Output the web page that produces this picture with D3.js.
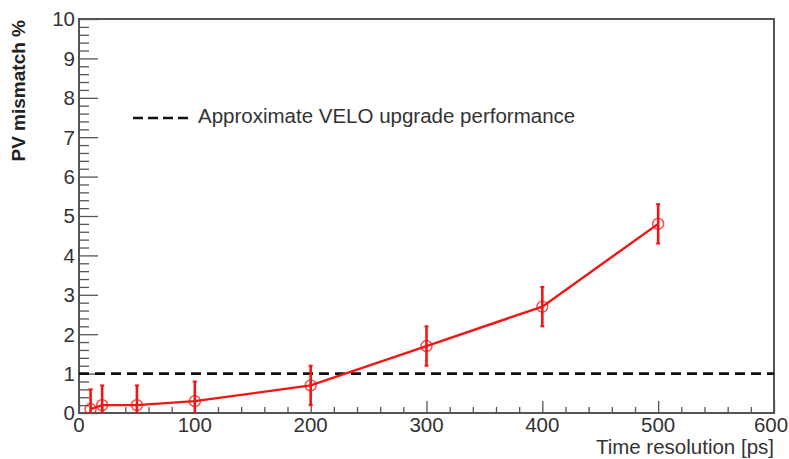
<!DOCTYPE html>
<html>
<head>
<meta charset="utf-8">
<script src="https://cdn.jsdelivr.net/npm/d3@7"></script>
<style>
  html, body { margin: 0; padding: 0; background: #fff; }
  svg { display: block; font-family: "Liberation Sans", Arial, Helvetica, sans-serif; }
</style>
</head>
<body>
<svg id="chart" width="789" height="459"></svg>
<script>
// Time resolution (ps) and PV mismatch (%) with symmetric errors
const timeRes   = [10, 20, 50, 100, 200, 300, 400, 500];
const mismatch  = [0.1, 0.2, 0.2, 0.3, 0.7, 1.7, 2.7, 4.8];
const errors    = [0.5, 0.5, 0.5, 0.5, 0.5, 0.5, 0.5, 0.5];
const veloLevel = 1;
const xTicks = [0, 100, 200, 300, 400, 500, 600];
const yTicks = [0, 1, 2, 3, 4, 5, 6, 7, 8, 9, 10];
const legendLabel = "Approximate VELO upgrade performance";

const svg = d3.select("#chart");
const m = { left: 79, right: 789 - 774, top: 19, bottom: 459 - 413 };
const W = 789, H = 459;

const x = d3.scaleLinear().domain([0, 600]).range([m.left, W - m.right]);
const y = d3.scaleLinear().domain([0, 10]).range([H - m.bottom, m.top]);

const axisColor = "#555";
const textColor = "#333";
const red = "#f41414";

// clip for data marks
svg.append("clipPath").attr("id", "plotClip")
  .append("rect")
  .attr("x", x(0)).attr("y", y(10))
  .attr("width", x(600) - x(0)).attr("height", y(0) - y(10));

// x axis: major ticks every 100, minor every 20, drawn inward
const xMinor = d3.range(0, 601, 20).filter(v => v % 100 !== 0);
const xAxisMajor = d3.axisTop(x).tickValues(xTicks).tickSize(12).tickFormat("");
const xAxisMinor = d3.axisTop(x).tickValues(xMinor).tickSize(6).tickFormat("");
[xAxisMajor, xAxisMinor].forEach(a => {
  const g = svg.append("g").attr("transform", `translate(0,${y(0)})`).call(a);
  g.select(".domain").remove();
  g.selectAll("line").attr("stroke", axisColor).attr("stroke-width", 1.3);
});

// y axis: major ticks every 1, minor every 0.2, drawn inward
const yMinor = d3.range(0, 50).map(i => i * 0.2).filter((v, i) => i % 5 !== 0);
const yAxisMajor = d3.axisRight(y).tickValues(yTicks).tickSize(19).tickFormat("");
const yAxisMinor = d3.axisRight(y).tickValues(yMinor).tickSize(10).tickFormat("");
[yAxisMajor, yAxisMinor].forEach(a => {
  const g = svg.append("g").attr("transform", `translate(${x(0)},0)`).call(a);
  g.select(".domain").remove();
  g.selectAll("line").attr("stroke", axisColor).attr("stroke-width", 1.3);
});

// frame
svg.append("rect")
  .attr("x", x(0)).attr("y", y(10))
  .attr("width", x(600) - x(0)).attr("height", y(0) - y(10))
  .attr("fill", "none").attr("stroke", axisColor).attr("stroke-width", 2);

// tick labels (the last one is nudged left to stay inside the canvas)
svg.append("g").selectAll("text").data(xTicks).join("text")
  .attr("x", d => Math.min(x(d), W - 18)).attr("y", 432)
  .attr("text-anchor", "middle").attr("font-size", 20.5).attr("fill", textColor)
  .text(d => d);

svg.append("g").selectAll("text").data(yTicks).join("text")
  .attr("x", 75).attr("y", d => y(d)).attr("dy", "0.36em")
  .attr("text-anchor", "end").attr("font-size", 20.5).attr("fill", textColor)
  .text(d => d);

// axis titles
svg.append("text")
  .attr("x", x(600)).attr("y", 454)
  .attr("text-anchor", "end").attr("font-size", 20.5).attr("fill", textColor)
  .text("Time resolution [ps]");

svg.append("text")
  .attr("transform", `translate(25,${y(10) + 1}) rotate(-90)`)
  .attr("text-anchor", "end").attr("font-size", 19).attr("font-weight", "bold")
  .attr("fill", "#222")
  .text("PV mismatch %");

// reference level (dashed)
svg.append("line")
  .attr("x1", x(0)).attr("x2", x(600))
  .attr("y1", y(veloLevel)).attr("y2", y(veloLevel))
  .attr("stroke", "#111").attr("stroke-width", 2.6)
  .attr("stroke-dasharray", "10,6");

// legend
svg.append("line")
  .attr("x1", 133).attr("x2", 189).attr("y1", 118).attr("y2", 118)
  .attr("stroke", "#111").attr("stroke-width", 2.6)
  .attr("stroke-dasharray", "10,5");
svg.append("text")
  .attr("x", 198).attr("y", 123)
  .attr("font-size", 20.5).attr("fill", textColor)
  .text(legendLabel);

// data
const pts = timeRes.map((t, i) => ({ t, v: mismatch[i], e: errors[i] }));
const gData = svg.append("g").attr("clip-path", "url(#plotClip)");

gData.append("path")
  .datum(pts)
  .attr("d", d3.line().x(d => x(d.t)).y(d => y(d.v)))
  .attr("fill", "none").attr("stroke", red).attr("stroke-width", 2.4);

const eb = gData.selectAll("g.err").data(pts).join("g").attr("class", "err");
eb.append("line")
  .attr("x1", d => x(d.t)).attr("x2", d => x(d.t))
  .attr("y1", d => y(d.v + d.e)).attr("y2", d => y(d.v - d.e))
  .attr("stroke", red).attr("stroke-width", 2.6);
eb.append("line")
  .attr("x1", d => x(d.t) - 2).attr("x2", d => x(d.t) + 2)
  .attr("y1", d => y(d.v + d.e)).attr("y2", d => y(d.v + d.e))
  .attr("stroke", red).attr("stroke-width", 2);
eb.append("line")
  .attr("x1", d => x(d.t) - 2).attr("x2", d => x(d.t) + 2)
  .attr("y1", d => y(d.v - d.e)).attr("y2", d => y(d.v - d.e))
  .attr("stroke", red).attr("stroke-width", 2);

gData.selectAll("circle").data(pts).join("circle")
  .attr("cx", d => x(d.t)).attr("cy", d => y(d.v)).attr("r", 5.5)
  .attr("fill", "none").attr("stroke", red).attr("stroke-width", 1.4)
  .attr("stroke-opacity", 0.8);
</script>
</body>
</html>
